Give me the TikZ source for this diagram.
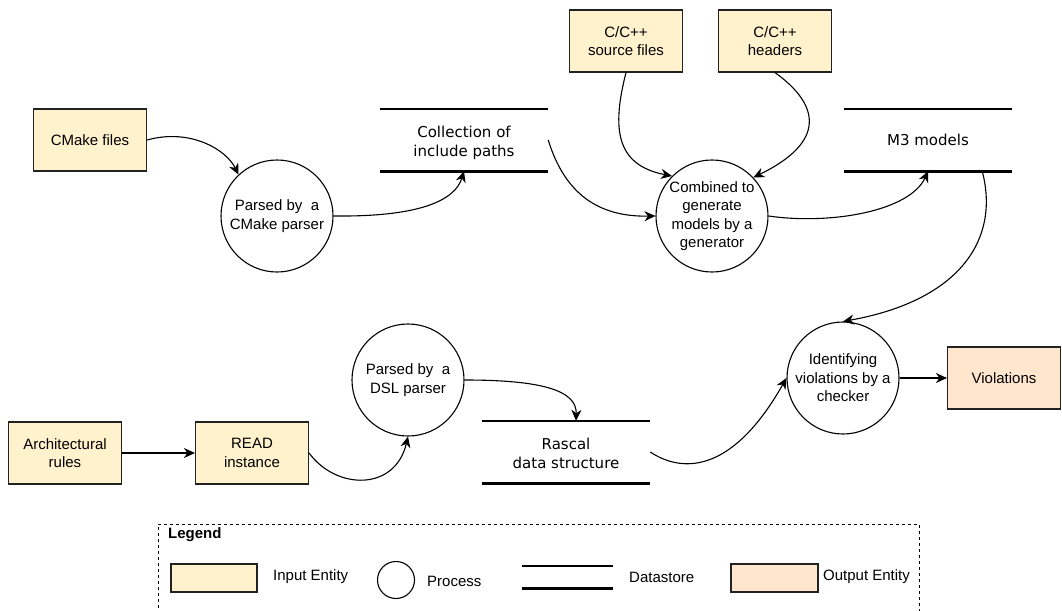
\documentclass[tikz,border=0pt]{standalone}
\usepackage{fontspec}
\setmainfont{Liberation Sans}
\newfontfamily\storefont{DejaVu Sans}
\usetikzlibrary{arrows.meta}
\definecolor{inputfill}{HTML}{FFF2CC}
\definecolor{outputfill}{HTML}{FFE6CC}
\definecolor{strokegray}{HTML}{222222}
% two-line datastore label, set slightly below the middle of the store
\newcommand{\storelabel}[1]{\raisebox{-7pt}[0pt][0pt]{\begin{tabular}{@{}c@{}}#1\end{tabular}}}

\begin{document}
\begin{tikzpicture}[x=1pt,y=-1pt,
  font=\fontsize{15}{18.5}\selectfont,
  entity/.style={draw=strokegray, line width=1.2pt, minimum width=113pt,
    minimum height=62pt, inner sep=2pt, align=center},
  inent/.style={entity, fill=inputfill},
  outent/.style={entity, fill=outputfill},
  proc/.style={circle, draw=black, line width=1.1pt, minimum size=112pt,
    inner sep=0pt, align=center},
  store/.style={minimum width=168pt, minimum height=62pt, inner sep=0pt,
    align=center, font=\storefont\fontsize{15}{19}\selectfont},
  storeline/.style={line width=2.6pt},
  flow/.style={line width=1.1pt, -{Stealth[length=11pt,width=10pt,inset=3.5pt]}},
  lgtext/.style={anchor=west, inner sep=0pt},
]
\useasboundingbox (0,0) rectangle (1062,610);

% entities
\node[inent] (cmake) at (90,140) {CMake files};
\node[inent] (src)   at (626,41) {C/C++\\source files};
\node[inent] (hdr)   at (775,41) {C/C++\\headers};
\node[inent] (arch)  at (65,453) {Architectural\\rules};
\node[inent] (read)  at (252,453) {READ\\instance};
\node[outent] (viol) at (1004,378) {Violations};

% processes
\node[proc] (p1)   at (277,216) {Parsed by~ a\\CMake parser};
\node[proc] (comb) at (712,216) {Combined to\\generate\\models by a\\generator};
\node[proc] (dsl)  at (408,380) {Parsed by~ a\\DSL parser};
\node[proc] (chk)  at (843,378) {Identifying\\violations by a\\checker};

% datastores
\node[store] (coll) at (464,140) {\storelabel{Collection of\\include paths}};
\node[store] (m3)   at (928,140) {M3 models};
\node[store] (ras)  at (566,452) {\storelabel{Rascal\\data structure}};
\foreach \s in {coll,m3,ras}{
  \draw[storeline] (\s.north west) -- (\s.north east);
  \draw[storeline] (\s.south west) -- (\s.south east);
}

% data flows
\draw[flow] (cmake.east) .. controls +(43,-12) and +(-12,-25) .. (p1.133);
\draw[flow] (p1.east) .. controls +(87,1) and +(-9,29) .. (coll.south);
\draw[flow] (coll.east) .. controls +(17,55) and +(-56,1) .. (comb.west);
\draw[flow] (src.south) .. controls +(-14,55) and +(-57,-11) .. (comb.135);
\draw[flow] (hdr.south) .. controls +(46,33) and +(72,-35) .. (comb.43);
\draw[flow] (comb.east) .. controls +(62,9) and +(-18,40) .. (m3.south);
\draw[flow] ([xshift=-30pt]m3.south east) .. controls +(18,68) and +(117,-21) .. (chk.north);
\draw[flow] (arch.east) -- (read.west);
\draw[flow] (read.east) .. controls +(27,37) and +(-13,55) .. (dsl.south);
\draw[flow] (dsl.east) .. controls +(75,0) and +(1,-31) .. ([xshift=10pt]ras.north);
\draw[flow] (ras.east) .. controls +(35,23) and +(-52,92) .. (chk.west);
\draw[flow] (chk.east) -- (viol.west);

% legend
\draw[line width=0.8pt, dash pattern=on 3pt off 3pt]
  (158,614) -- (158,524) -- (919,524) -- (919,614);
\node[lgtext, font=\bfseries\fontsize{15}{18}\selectfont] (lgtitle) at (168,535) {Legend};
\node[entity, fill=inputfill, minimum width=86pt, minimum height=28pt] (lgin) at (214,578) {};
\node[lgtext] (lgintext) at (273,577) {Input Entity};
\node[circle, draw=black, line width=1.1pt, minimum size=37pt, inner sep=0pt] (lgproc) at (396,580) {};
\node[lgtext] (lgproctext) at (427,581) {Process};
\node[minimum width=91pt, minimum height=22pt, inner sep=0pt] (lgstore) at (567.5,577) {};
\draw[storeline] (lgstore.north west) -- (lgstore.north east);
\draw[storeline] (lgstore.south west) -- (lgstore.south east);
\node[lgtext] (lgstoretext) at (629,577) {Datastore};
\node[entity, fill=outputfill, minimum width=87pt, minimum height=28pt] (lgout) at (774.5,578) {};
\node[lgtext] (lgouttext) at (823,577) {Output Entity};
\end{tikzpicture}
\end{document}
